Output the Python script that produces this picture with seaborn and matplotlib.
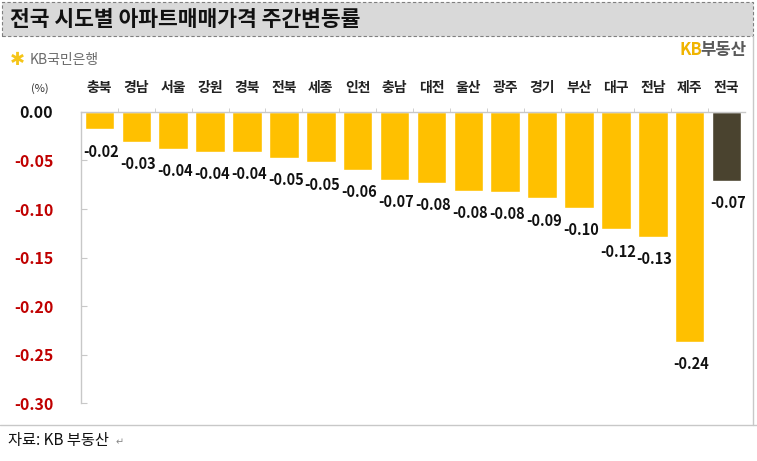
import matplotlib
matplotlib.use("Agg")
import matplotlib.pyplot as plt
from matplotlib.patches import Rectangle
from matplotlib.lines import Line2D
from matplotlib.ticker import FixedLocator
import seaborn as sns

sns.set_style("white")
plt.rcParams['font.family'] = ['Noto Sans CJK KR', 'DejaVu Sans']

# data (weekly change, %)
regions = ['충북', '경남', '서울', '강원', '경북', '전북', '세종', '인천', '충남', '대전',
           '울산', '광주', '경기', '부산', '대구', '전남', '제주', '전국']
values = [-0.018, -0.031, -0.038, -0.041, -0.041, -0.047, -0.052, -0.060, -0.070, -0.073,
          -0.081, -0.082, -0.089, -0.099, -0.121, -0.129, -0.237, -0.071]
labels = ['-0.02', '-0.03', '-0.04', '-0.04', '-0.04', '-0.05', '-0.05', '-0.06', '-0.07', '-0.08',
          '-0.08', '-0.08', '-0.09', '-0.10', '-0.12', '-0.13', '-0.24', '-0.07']
yticks = [0.0, -0.05, -0.10, -0.15, -0.20, -0.25, -0.30]

YELLOW = '#ffc000'
DARK = '#4a432f'
RED = '#c00000'
colors = [DARK if r == '전국' else YELLOW for r in regions]

W, H = 757, 461
fig = plt.figure(figsize=(W / 100, H / 100), dpi=100)

# title banner
fig.patches.append(Rectangle((2 / W, 1 - 36 / H), 751 / W, 34 / H, transform=fig.transFigure,
                             facecolor='#d9d9d9', edgecolor='#7f7f7f', linestyle=(0, (3, 2)),
                             linewidth=0.8))
fig.text(10 / W, 1 - 19 / H, '전국 시도별 아파트매매가격 주간변동률', fontsize=15.5,
         fontweight='bold', va='center', ha='left', color='#111111')

# frame lines
fig.lines.append(Line2D([753 / W, 753 / W], [1 - 36 / H, 1 - 425 / H], transform=fig.transFigure,
                        color='#c8c8c8', linewidth=1))
fig.lines.append(Line2D([0, 1], [1 - 425 / H, 1 - 425 / H], transform=fig.transFigure,
                        color='#c8c8c8', linewidth=1))

# logos
fig.text(10 / W, 1 - 60 / H, '✱', fontsize=13, color='#f5c518', va='center', ha='left',
         family=['DejaVu Sans'])
fig.text(30 / W, 1 - 60 / H, 'KB국민은행', fontsize=10, color='#6b6b6b', va='center', ha='left')
fig.text(702 / W, 1 - 50 / H, 'KB', fontsize=12, color='#f0b400', fontweight='bold',
         va='center', ha='right')
fig.text(746 / W, 1 - 50 / H, '부동산', fontsize=12, color='#5a5a5a', fontweight='bold',
         va='center', ha='right')

# source
fig.text(8 / W, 1 - 440 / H, '자료: KB 부동산', fontsize=11, color='#111111', va='center', ha='left')
fig.text(116 / W, 1 - 442 / H, '↵', fontsize=7, color='#888888', va='center', ha='left',
         family=['DejaVu Sans'])

# axes
ax = fig.add_axes([81 / W, 1 - 403 / H, 664 / W, 291 / H])
sns.barplot(x=regions, y=values, hue=regions, palette=colors, legend=False,
            width=0.8, saturation=1, ax=ax)

ax.set_ylim(-0.30, 0)
ax.set_xlim(-0.5, len(regions) - 0.5)
ax.set_xlabel('')
ax.set_ylabel('')

for s in ['right', 'bottom']:
    ax.spines[s].set_visible(False)
for s in ['left', 'top']:
    ax.spines[s].set_color('#c8c8c8')
    ax.spines[s].set_linewidth(1)

ax.set_yticks(yticks)
ax.set_yticklabels([f'{t:.2f}' for t in yticks], fontsize=11.5, fontweight='bold')
for lbl, t in zip(ax.get_yticklabels(), yticks):
    lbl.set_color('#111111' if t == 0 else RED)
ax.tick_params(axis='y', direction='in', length=4, color='#c8c8c8', pad=20, left=True)

ax.xaxis.tick_top()
ax.set_xticks(range(len(regions)))
ax.set_xticklabels(regions, fontsize=10, fontweight='bold', color='#222222')
ax.tick_params(axis='x', which='major', length=0, pad=12)
ax.xaxis.set_minor_locator(FixedLocator([i + 0.5 for i in range(len(regions) - 1)]))
ax.tick_params(axis='x', which='minor', direction='out', length=3, color='#c8c8c8', top=True)

for i, (v, t) in enumerate(zip(values, labels)):
    ax.annotate(t, (i + 0.05, v), xytext=(0, -16), textcoords='offset points',
                ha='center', va='center', fontsize=10.5, fontweight='bold', color='#111111')

fig.text(40 / W, 1 - 89 / H, '(%)', fontsize=8, color='#333333', va='center', ha='center')

fig.savefig('out.png', dpi=100)
